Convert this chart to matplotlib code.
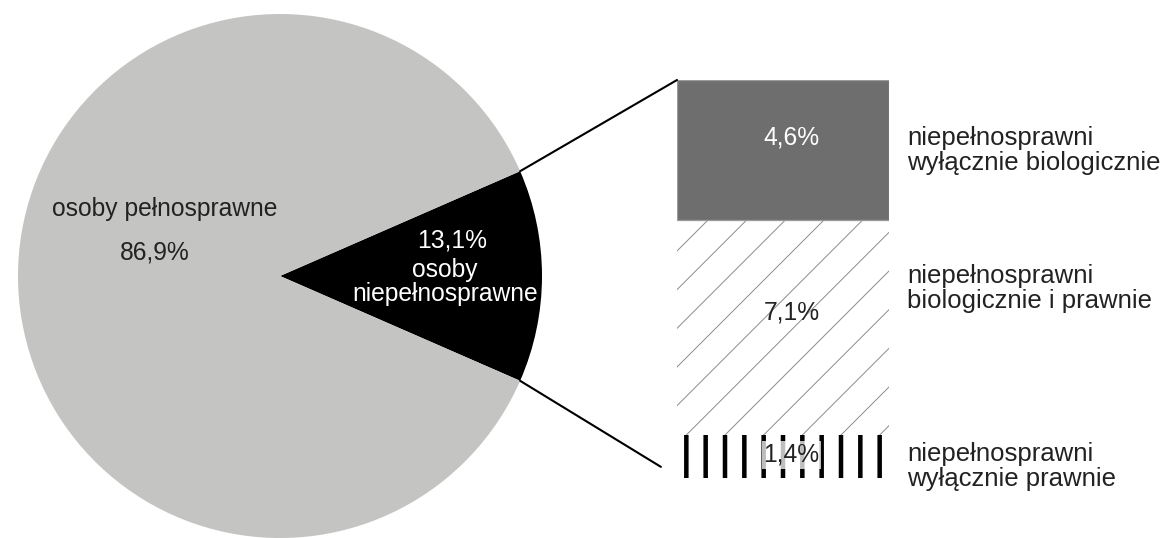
import numpy as np
import matplotlib
matplotlib.use('Agg')
import matplotlib.pyplot as plt
from matplotlib.patches import ConnectionPatch

plt.rcParams['font.family'] = ['Liberation Sans', 'DejaVu Sans']

# data
pie_names = ['osoby\nniepełnosprawne', 'osoby pełnosprawne']
pie_values = [13.1, 86.9]
# stacked bar, bottom to top
bar_names = ['niepełnosprawni\nwyłącznie prawnie',
             'niepełnosprawni\nbiologicznie i prawnie',
             'niepełnosprawni\nwyłącznie biologicznie']
bar_values = [1.4, 7.1, 4.6]


def pct(v):
    return f'{v:.1f}'.replace('.', ',') + '%'


DPI = 116
W, H = 1169, 538
fig = plt.figure(figsize=(W / DPI, H / DPI), dpi=DPI)

# pie on the left
ax1 = fig.add_axes([18 / W, 0.0, 524 / W, 524 / H])
angle = -pie_values[0] * 3.6 / 2
wedges, _ = ax1.pie(pie_values, colors=['black', '#c4c4c2'], startangle=angle,
                    radius=1, wedgeprops=dict(linewidth=0))
ax1.set_xlim(-1, 1)
ax1.set_ylim(-1, 1)
ax1.axis('off')

ax1.text(-0.44, 0.256, pie_names[1], ha='center', va='center', fontsize=15.3, color='#222222')
ax1.text(-0.477, 0.09, pct(pie_values[1]), ha='center', va='center', fontsize=15.3, color='#222222')
ax1.text(0.656, 0.137, pct(pie_values[0]), ha='center', va='center', fontsize=15.3, color='white')
ax1.text(0.63, 0.023, pie_names[0].split('\n')[0], ha='center', va='center', fontsize=15.3, color='white')
ax1.text(0.63, -0.069, pie_names[0].split('\n')[1], ha='center', va='center', fontsize=15.3, color='white')

# stacked bar on the right
ax2 = fig.add_axes([677 / W, 60 / H, 212 / W, 398 / H])
bottoms = np.concatenate([[0], np.cumsum(bar_values)[:-1]])
total = sum(bar_values)

with plt.rc_context({'hatch.linewidth': 2.8}):
    b0 = ax2.bar(0.5, bar_values[0], bottom=bottoms[0], width=1, color='white',
                 edgecolor='black', linewidth=0, hatch='|')
with plt.rc_context({'hatch.linewidth': 0.6}):
    b1 = ax2.bar(0.5, bar_values[1], bottom=bottoms[1], width=1, color='white',
                 edgecolor='#8a8a8a', linewidth=0, hatch='/')
b2 = ax2.bar(0.5, bar_values[2], bottom=bottoms[2], width=1, color='#6e6e6e',
             edgecolor='#9a9a9a', linewidth=0.8)
for p in b0:
    if hasattr(p, 'set_hatch_linewidth'):
        p.set_hatch_linewidth(2.8)
for p in b1:
    if hasattr(p, 'set_hatch_linewidth'):
        p.set_hatch_linewidth(0.6)

ax2.set_xlim(0, 1)
ax2.set_ylim(0, total)
ax2.axis('off')

# value labels inside the bar
val_y = [0.058, 0.415, 0.856]
val_col = ['#222222', '#222222', 'white']
for i, v in enumerate(bar_values):
    t = ax2.text(0.54, val_y[i], pct(v), transform=ax2.transAxes, ha='center', va='center',
                 fontsize=15.3, color=val_col[i])
    if i == 0:
        t.set_bbox(dict(facecolor='white', edgecolor='none', alpha=0.75, pad=1))

# category labels to the right
name_y = [0.028, 0.477, 0.824]
for i, name in enumerate(bar_names):
    ax2.text(1.085, name_y[i], name, transform=ax2.transAxes, ha='left', va='center',
             fontsize=16, color='#222222', linespacing=1.05)

# connecting lines
theta1, theta2 = wedges[0].theta1, wedges[0].theta2
x_top, y_top = np.cos(np.radians(theta2)), np.sin(np.radians(theta2))
x_bot, y_bot = np.cos(np.radians(theta1)), np.sin(np.radians(theta1))

con = ConnectionPatch(xyA=(x_top, y_top), coordsA=ax1.transData,
                      xyB=(0, 1), coordsB=ax2.transAxes, color='black', linewidth=1.3)
fig.add_artist(con)
con = ConnectionPatch(xyA=(x_bot, y_bot), coordsA=ax1.transData,
                      xyB=(-0.076, 0.028), coordsB=ax2.transAxes, color='black', linewidth=1.3)
fig.add_artist(con)

fig.savefig('out.png', dpi=DPI)
